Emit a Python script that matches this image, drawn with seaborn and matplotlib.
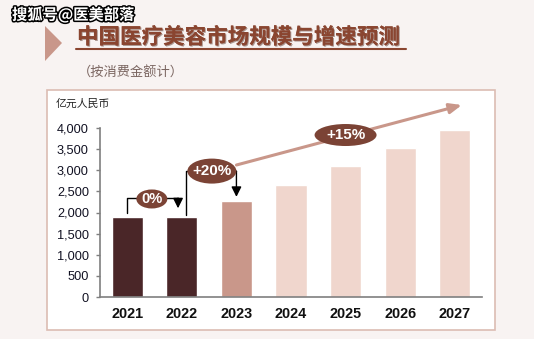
import matplotlib
matplotlib.use("Agg")
import matplotlib.pyplot as plt
import matplotlib.patheffects as pe
from matplotlib.patches import Ellipse, Polygon, Rectangle
from matplotlib.ticker import FuncFormatter
import seaborn as sns
import pandas as pd

# Market size (100 million RMB) by year
years = ["2021", "2022", "2023", "2024", "2025", "2026", "2027"]
market_size = [1900, 1900, 2280, 2650, 3090, 3530, 3950]
bar_colors = ["#4a2628", "#4a2628", "#c9978a", "#f0d6cd", "#f0d6cd", "#f0d6cd", "#f0d6cd"]
growth_labels = ["0%", "+20%", "+15%"]

title = "中国医疗美容市场规模与增速预测"
subtitle = "（按消费金额计）"
unit_label = "亿元人民币"
watermark = "搜狐号@医美部落"

W, H = 534, 339
sns.set_theme(style="white")
plt.rcParams["font.family"] = ["Noto Sans CJK SC", "DejaVu Sans"]

fig = plt.figure(figsize=(W / 100, H / 100), dpi=100)
fig.patch.set_facecolor("#f8f3f2")


def fx(px):
    return px / W


def fy(py):
    return 1 - py / H


# white chart panel with a pink border
fig.patches.append(Rectangle((fx(47), fy(330)), fx(495) - fx(47), fy(90) - fy(330),
                             transform=fig.transFigure, facecolor="white",
                             edgecolor="#dcbcb3", linewidth=1.2, zorder=-5))

# heading marker triangle
fig.patches.append(Polygon([(fx(45), fy(26)), (fx(62), fy(43)), (fx(45), fy(61))],
                           closed=True, transform=fig.transFigure,
                           facecolor="#c9978a", edgecolor="none", zorder=-5))

fig.text(fx(77), fy(37), title, fontsize=15.5, fontweight="bold",
         color="#8a4530", va="center", ha="left",
         path_effects=[pe.withSimplePatchShadow(offset=(0.8, -0.8), shadow_rgbFace="#4a2418", alpha=0.45),
                       pe.Normal()])
fig.lines.append(plt.Line2D([fx(76), fx(406)], [fy(49), fy(49)], transform=fig.transFigure,
                            color="#8a4530", linewidth=1.5))
fig.text(fx(78), fy(73), subtitle, fontsize=9.5, color="#7a6560", va="center", ha="left")

fig.text(fx(12), fy(15), watermark, fontsize=11, fontweight="bold", color="white",
         va="center", ha="left",
         path_effects=[pe.withStroke(linewidth=2.2, foreground="black")])

fig.text(fx(56), fy(104), unit_label, fontsize=7.8, color="#222222", va="center", ha="left")

ax = fig.add_axes([fx(100), fy(297), fx(482) - fx(100), fy(128) - fy(297)])
ax.set_facecolor("none")

df = pd.DataFrame({"year": years, "size": market_size})
sns.barplot(data=df, x="year", y="size", hue="year", palette=bar_colors,
            legend=False, width=0.57, saturation=1, ax=ax)

ax.set_xlim(-0.5, 6.5)
ax.set_ylim(0, 4000)
ax.set_yticks(range(0, 4001, 500))
ax.yaxis.set_major_formatter(FuncFormatter(lambda v, _: f"{int(v):,}"))
ax.set_xlabel("")
ax.set_ylabel("")
for s in ["top", "right"]:
    ax.spines[s].set_visible(False)
for s in ["left", "bottom"]:
    ax.spines[s].set_color("#7f7f7f")
    ax.spines[s].set_linewidth(1.2)
ax.tick_params(axis="y", which="both", left=True, length=3, width=1, color="#7f7f7f",
               labelsize=9.2, labelcolor="#111122", pad=5)
ax.tick_params(axis="x", bottom=False, labelsize=10.4, pad=1.5)
for lab in ax.get_yticklabels():
    lab.set_fontfamily(["Liberation Sans", "DejaVu Sans"])
for lab in ax.get_xticklabels():
    lab.set_fontfamily(["Liberation Sans", "DejaVu Sans"])
    lab.set_fontweight("bold")
    lab.set_color("#111111")

ell_color = "#7b4335"
arrow_kw = dict(arrowstyle="-|>,head_length=0.5,head_width=0.25", color="black", lw=1.0,
                shrinkA=0, shrinkB=0)


def bracket(x0, y0, x1, ytop, y1):
    ax.plot([x0, x0, x1], [y0, ytop, ytop], color="black", lw=1.0, clip_on=False, zorder=3)
    ax.annotate("", xy=(x1, y1), xytext=(x1, ytop), arrowprops=arrow_kw,
                annotation_clip=False, zorder=3)


def badge(x, y, w_px, h_px, text, fs):
    ax.add_patch(Ellipse((x, y), w_px / 54.57, h_px / 0.04225, facecolor=ell_color,
                         edgecolor="none", clip_on=False, zorder=5))
    ax.text(x, y, text, ha="center", va="center", color="white", fontsize=fs,
            fontweight="bold", family=["Liberation Sans", "DejaVu Sans"], zorder=6)


# 2021 -> 2022
bracket(0, market_size[0] + 90, 0.93, market_size[0] + 440, market_size[1] + 200)
badge(0.45, market_size[0] + 420, 31, 19, growth_labels[0], 10.5)

# 2022 -> 2023
bracket(1.08, market_size[1] + 40, 2.0, market_size[1] + 1080, market_size[2] + 90)
badge(1.55, market_size[1] + 1080, 49, 25, growth_labels[1], 10.9)

# 2023 -> 2027 trend
ax.annotate("", xy=(6.13, 4544), xytext=(2.0, 3124),
            arrowprops=dict(arrowstyle="-|>,head_length=0.6,head_width=0.25",
                            color="#c9978a", lw=2.2, shrinkA=0, shrinkB=0),
            annotation_clip=False, zorder=2)
badge(4.0, 3834, 62, 22, growth_labels[2], 10.9)

fig.savefig("out.png", dpi=100, facecolor=fig.get_facecolor())
